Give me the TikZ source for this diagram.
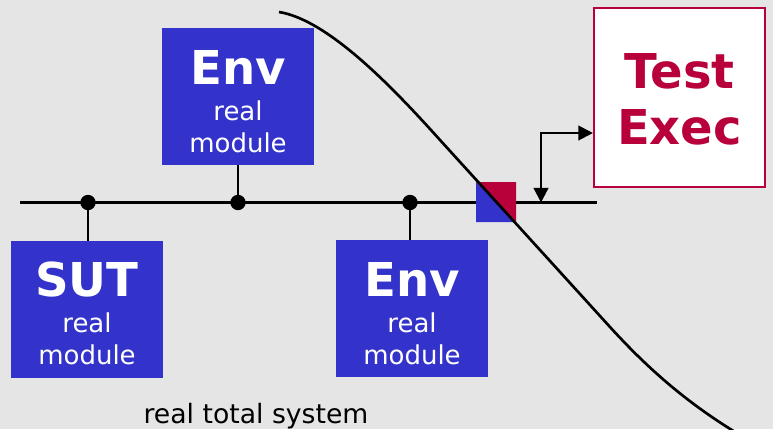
\documentclass[tikz,border=0pt]{standalone}
\usepackage{fontspec}
\setmainfont{DejaVu Sans}
\usepackage{xcolor}
\usepackage{tikz}
\usetikzlibrary{positioning,arrows.meta,calc}
\definecolor{bggray}{HTML}{E5E5E5}
\definecolor{modblue}{HTML}{3333CC}
\definecolor{crimson}{HTML}{B8003A}

\begin{document}
\begin{tikzpicture}[
    x=0.75pt, y=-0.75pt,
    font=\fontsize{19.5}{24}\selectfont,
    mod_box/.style={fill=modblue, inner sep=0pt, minimum width=114pt, minimum height=102.75pt},
    mod_text/.style={text=white, align=center, inner sep=0pt},
    exec_box/.style={draw=crimson, fill=white, line width=1.6pt, inner sep=0pt, minimum width=128.25pt, minimum height=134.25pt},
    exec_text/.style={text=crimson, align=center, inner sep=0pt, font=\bfseries\fontsize{36}{42}\selectfont},
    bus_dot/.style={circle, fill=black, inner sep=0pt, minimum size=11.5pt},
    wire/.style={line width=2.2pt, draw=black},
    arrow/.style={{Triangle[length=11pt,width=11pt]}-{Triangle[length=11pt,width=11pt]}, line width=1.7pt}
]

% background and page size
\fill[bggray] (0,0) rectangle (773,429);
\clip (0,0) rectangle (773,429);

% bus
\coordinate (busL) at (20,202.5);
\coordinate (busR) at (597,202.5);
\draw[wire] (busL) -- (busR);

% modules
\node (envtop) [mod_box] at (238,96.5) {};
\node (envtoptxt) [mod_text] at (238,102) {{\bfseries\fontsize{35}{40}\selectfont Env}\\[3pt] real\\ module};

\node (sut) [mod_box] at (87,309.5) {};
\node (suttxt) [mod_text] at (87,313) {{\bfseries\fontsize{35}{40}\selectfont SUT}\\[3pt] real\\ module};

\node (envbot) [mod_box] at (412,308.5) {};
\node (envbottxt) [mod_text] at (412,314) {{\bfseries\fontsize{35}{40}\selectfont Env}\\[3pt] real\\ module};

% taps on the bus
\node (dsut) [bus_dot] at (88,202.5) {};
\node (denvtop) [bus_dot] at (238,202.5) {};
\node (denvbot) [bus_dot] at (410,202.5) {};

\draw[wire] (dsut.center) -- (dsut |- sut.north);
\draw[wire] (denvtop.center) -- (denvtop |- envtop.south);
\draw[wire] (denvbot.center) -- (denvbot |- envbot.north);

% test execution
\node (exec) [exec_box] at (679.5,97.5) {};
\node (exectxt) [exec_text] at (679.5,99) {Test\\Exec};

\coordinate (tap) at (541,202.5);
\draw[arrow] (tap) |- (exec.west |- 0,133);

% probe
\fill[modblue] (476,182) -- (476,222) -- (516,222) -- cycle;
\fill[crimson] (476,182) -- (516,182) -- (516,222) -- cycle;

% boundary
\draw[line width=2pt]
    (279,12) .. controls (329,20) and (395,90) .. (440,140)
    -- (610,327) .. controls (650,371) and (690,405) .. (740,435);

\node (caption) [anchor=base] at (256,423) {\fontsize{20}{24}\selectfont real total system};

\end{tikzpicture}
\end{document}
